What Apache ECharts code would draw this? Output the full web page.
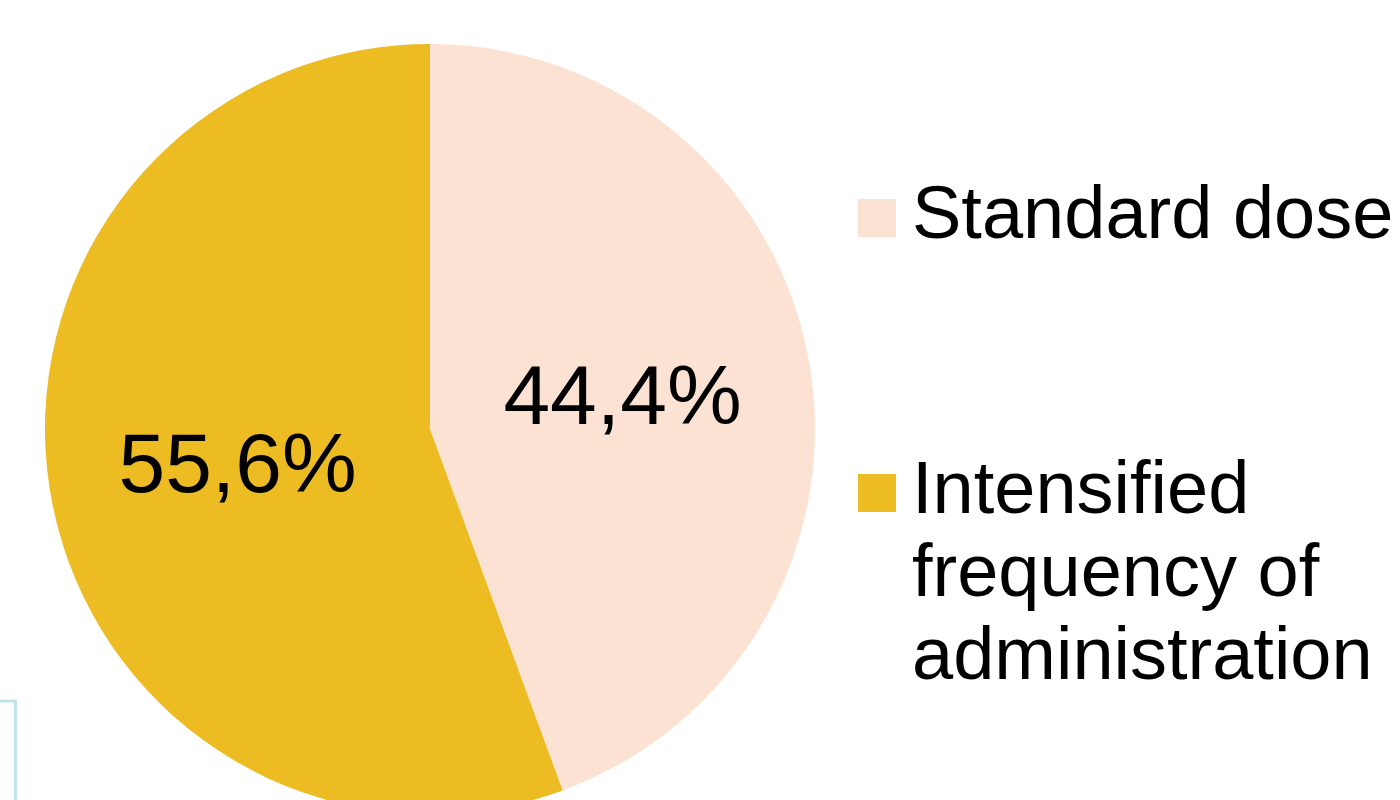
<!DOCTYPE html>
<html>
<head>
<meta charset="utf-8">
<script src="https://cdn.jsdelivr.net/npm/echarts@6/dist/echarts.min.js"></script>
<style>
html,body{margin:0;padding:0;background:#fff;}
#main{width:1400px;height:800px;}
</style>
</head>
<body>
<div id="main"></div>
<script>
const categories = ['Standard dose', 'Intensified\nfrequency of\nadministration'];
const values = [44.4, 55.6];
const labels = ['44,4%', '55,6%'];
const colors = ['#FCE2D2', '#ECBC22'];

const chart = echarts.init(document.getElementById('main'), null, {renderer: 'canvas'});
const FONT = '"Liberation Sans", Arial, sans-serif';
const LH = 83;

const option = {
  backgroundColor: '#ffffff',
  animation: false,
  legend: [
    {
      data: [categories[0]],
      orient: 'vertical',
      left: 858,
      top: 176.5,
      padding: 0,
      itemWidth: 38,
      itemHeight: 38,
      icon: 'rect',
      selectedMode: false,
      textStyle: {fontFamily: FONT, fontSize: 74, color: '#000', lineHeight: LH, padding: [0, 0, 0, 11]}
    },
    {
      data: [categories[1]],
      orient: 'vertical',
      left: 858,
      top: 285.5,
      padding: 0,
      itemWidth: 38,
      itemHeight: 38,
      icon: 'rect',
      selectedMode: false,
      formatter: function (name) { return '\n\n' + name; },
      textStyle: {fontFamily: FONT, fontSize: 74, color: '#000', lineHeight: LH, padding: [0, 0, 0, 11]}
    }
  ],
  graphic: [
    {
      type: 'rect',
      shape: {x: -20, y: 701, width: 35.5, height: 150},
      style: {fill: 'none', stroke: '#BEE3E8', lineWidth: 3},
      silent: true
    }
  ],
  series: [
    {
      type: 'pie',
      center: [430, 429],
      radius: [0, 385],
      startAngle: 90,
      clockwise: true,
      avoidLabelOverlap: false,
      label: {
        show: true,
        position: 'inside',
        fontFamily: FONT,
        fontSize: 84,
        color: '#000',
        formatter: function (p) { return '{s| }\n{a|' + labels[p.dataIndex] + '}'; },
        rich: {
          s: {fontSize: 1, lineHeight: 12},
          a: {fontFamily: FONT, fontSize: 84, color: '#000', lineHeight: 96}
        }
      },
      labelLine: {show: false},
      emphasis: {disabled: true},
      itemStyle: {borderWidth: 0},
      data: categories.map(function (c, i) {
        return {name: c, value: values[i], itemStyle: {color: colors[i]}};
      })
    }
  ]
};
chart.setOption(option);
</script>
</body>
</html>
